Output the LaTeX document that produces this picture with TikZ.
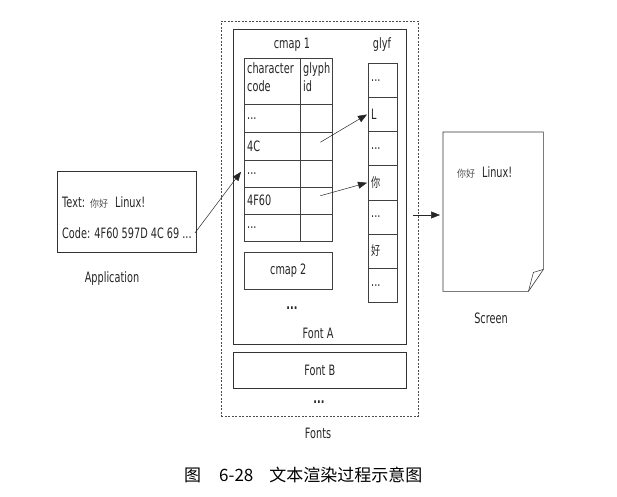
\documentclass[tikz,border=0pt]{standalone}
\usepackage{fontspec}
\setmainfont{DejaVu Sans}[FakeStretch=0.68]
\newfontfamily\cjks{Noto Sans CJK SC}[FakeStretch=0.9]
\newfontfamily\cjkn{Noto Sans CJK SC}[FakeStretch=0.7]
\newfontfamily\cjkcap{Noto Sans CJK SC}
\usetikzlibrary{arrows.meta}
\newcommand\mydots{.\kern0pt.\kern0pt.}
\begin{document}
\begin{tikzpicture}[x=1pt,y=-1pt,
  font=\fontsize{14.3}{18}\selectfont,
  frame/.style={draw=black!80, line width=0.6pt, inner sep=0, anchor=north west},
  cellbox/.style={draw=black!75, line width=0.55pt, inner sep=0, anchor=north west},
  txt/.style={inner sep=0, text=black!85},
  arr/.style={-{Triangle[length=9pt,width=7pt]}, line width=0.5pt, black!85}]
\useasboundingbox (0,0) rectangle (617,496);

% outer dashed fonts box
\node (fonts) [draw=black!70, dashed, dash pattern=on 2pt off 1.5pt, line width=0.5pt, inner sep=0, anchor=north west,
  minimum width=197pt, minimum height=395pt] at (221,21) {};
\node (fontA) [frame, minimum width=173pt, minimum height=315pt] at (233,29) {};
\node (fontB) [frame, minimum width=173pt, minimum height=36pt] at (233,352) {};
\node[txt] at (fontB.center) {Font B};
\node[txt] (fontAlbl) at (318,333) {Font A};
\node[txt] (dotsA) at (292,308) {\textbf{\mydots}};
\node[txt] (dotsF) at (319,402) {\textbf{\mydots}};
\node[txt] (fontslbl) at (318,433) {Fonts};

% cmap 1 table
\node[txt] (cmap1lbl) at (292,45) {cmap 1};
\node[txt] (glyflbl) at (382,45) {glyf};
\node (hc) [cellbox, minimum width=56pt, minimum height=46pt] at (244,58) {};
\node (hg) [cellbox, minimum width=32pt, minimum height=46pt] at (300,58) {};
\node[txt, anchor=north west, align=left] at ([shift={(3pt,-4pt)}]hc.north west) {character\\code};
\node[txt, anchor=north west, align=left] at ([shift={(3pt,-4pt)}]hg.north west) {glyph\\id};
\foreach \i/\y/\h/\t in {1/104/28/\mydots, 2/132/28/4C, 3/160/27/\mydots, 4/187/27/4F60, 5/214/27/\mydots}{
  \node (c\i) [cellbox, minimum width=56pt, minimum height=\h pt] at (244,\y) {};
  \node (g\i) [cellbox, minimum width=32pt, minimum height=\h pt] at (300,\y) {};
  \node[txt, anchor=west] at ([xshift=3pt]c\i.west) {\t};
}
\node (cmap2) [cellbox, minimum width=88pt, minimum height=37pt] at (244,252) {};
\node[txt] at (cmap2.center) {cmap 2};

% glyf column
\foreach \i/\t in {0/\mydots, 1/L, 2/\mydots, 3/{\cjkn\fontsize{13}{15}\selectfont 你}, 4/\mydots, 5/{\cjkn\fontsize{13}{15}\selectfont 好}, 6/\mydots}{
  \node (y\i) [cellbox, minimum width=29pt, minimum height=34.14pt] at (368,63+34.14*\i) {};
  \node[txt, anchor=west] at ([xshift=3pt]y\i.west) {\t};
}

% arrows inside font
\draw[arr] ([shift={(4pt,4pt)}]g2.center) -- ([xshift=-1pt]y1.west);
\draw[arr] ([shift={(4pt,5pt)}]g4.center) -- ([xshift=-1pt]y3.west);

% application
\node (app) [frame, minimum width=139pt, minimum height=81pt] at (57,171) {};
\node[txt, anchor=west] (apptext) at (62,202) {Text:\hspace{5pt}{\cjks\fontsize{10}{12}\selectfont\color{black!70} 你好}\hspace{7pt}Linux!};
\node[txt, anchor=west] (appcode) at (62,233) {Code: 4F60 597D 4C 69 \mydots};
\node[txt] (applbl) at (112,279) {Application};
\draw[arr] ([xshift=3pt]appcode.east) -- ([shift={(-3pt,2pt)}]c3.west);

% screen
\node (screen) [inner sep=0, anchor=north west, minimum width=100pt, minimum height=159pt] at (443,132) {};
\draw[black!80, line width=0.6pt] (screen.north west) -- (screen.north east) -- ([yshift=22pt]screen.south east)
  -- ([xshift=-15pt]screen.south east) -- (screen.south west) -- cycle;
\draw[black!80, line width=0.5pt] ([yshift=22pt]screen.south east) -- ([shift={(-10pt,19pt)}]screen.south east)
  -- ([xshift=-15pt]screen.south east);
\node[txt, anchor=west] (scrtext) at (457,172) {{\cjks\fontsize{10}{12}\selectfont\color{black!70} 你好}\hspace{7pt}Linux!};
\node[txt] (scrlbl) at (491,318) {Screen};
\coordinate (sstart) at (413,215);
\draw[arr] (sstart) -- ([xshift=-3pt]sstart -| screen.west);

% caption
\node[txt, anchor=west, text=black] (caption) at (184,475) {\cjkcap\fontsize{17}{19}\selectfont 图\hspace{18pt}6-28\hspace{16pt}文本渲染过程示意图};
\end{tikzpicture}
\end{document}
